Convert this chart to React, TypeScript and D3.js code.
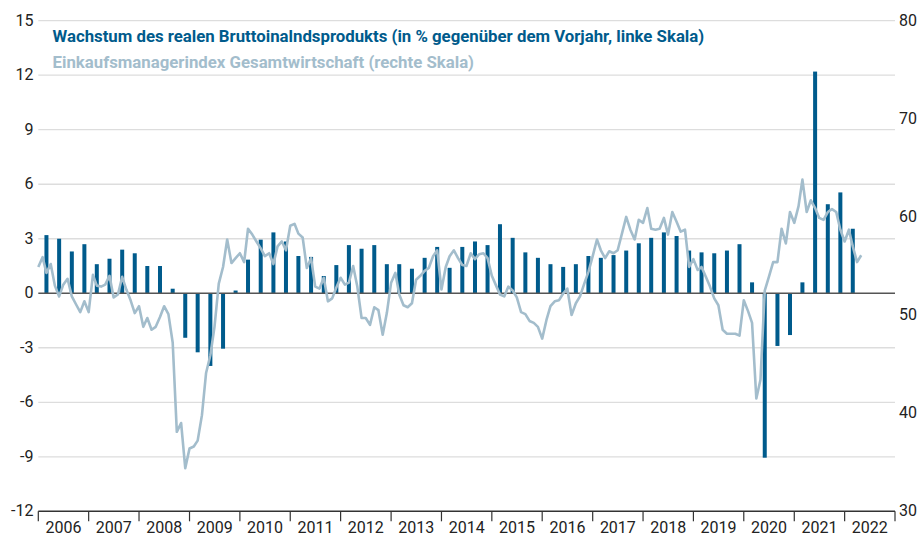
import React from "react";
import * as d3 from "d3";

const W = 921;
const H = 537;

// Quarterly real GDP growth (% yoy), 2006 Q1 .. 2022 Q1
const gdpStartYear = 2006;
const gdpValues = [
  3.2, 3.0, 2.3, 2.7,
  1.6, 1.9, 2.4, 2.2,
  1.5, 1.5, 0.25, -2.45,
  -3.25, -4.0, -3.05, 0.15,
  1.85, 2.95, 3.35, 2.85,
  2.05, 2.0, 0.95, 1.55,
  2.65, 2.45, 2.65, 1.6,
  1.6, 1.35, 1.95, 2.55,
  1.4, 2.55, 2.85, 2.65,
  3.8, 3.05, 2.25, 1.95,
  1.6, 1.45, 1.6, 2.05,
  1.95, 2.1, 2.35, 2.75,
  3.05, 3.35, 3.15, 2.35,
  2.25, 2.2, 2.35, 2.7,
  0.6, -9.05, -2.9, -2.3,
  0.6, 12.2, 4.9, 5.55,
  3.55,
];

// Monthly composite PMI, Jan 2006 .. May 2022
const pmiValues = [
  54.9, 55.9, 54.3, 55.2, 53.0, 51.9, 53.1, 53.7, 51.9, 51.1, 50.3, 51.4,
  50.3, 54.1, 53.0, 52.9, 53.1, 54.0, 51.8, 52.1, 53.9, 52.6, 51.5, 50.2,
  50.9, 48.8, 49.7, 48.5, 48.8, 49.8, 50.9, 50.1, 47.2, 38.1, 39.0, 34.4,
  36.4, 36.6, 37.2, 39.8, 44.1, 45.9, 48.8, 53.2, 54.9, 57.7, 55.3, 55.8,
  56.3, 55.4, 58.8, 58.2, 57.5, 56.8, 56.0, 56.3, 55.2, 57.0, 57.5, 56.6,
  59.1, 59.3, 58.3, 57.9, 54.8, 55.8, 52.9, 52.7, 53.8, 51.4, 51.7, 52.8,
  53.8, 53.1, 53.3, 55.0, 52.9, 49.7, 49.7, 49.0, 50.8, 50.5, 48.0, 50.2,
  53.3, 54.3, 52.1, 51.0, 50.8, 51.2, 53.6, 54.0, 54.5, 54.8, 56.0, 56.6,
  52.6, 54.9, 56.0, 56.6, 55.8, 55.1, 55.0, 56.3, 55.7, 56.2, 56.3, 55.8,
  54.0, 53.0, 52.1, 51.9, 52.9, 52.5, 51.8, 50.3, 50.1, 49.4, 49.2, 48.8,
  47.6, 49.5, 50.9, 51.4, 51.5, 52.2, 52.7, 50.0, 51.2, 51.9, 53.2, 54.4,
  56.0, 57.7, 56.6, 55.8, 56.5, 56.3, 56.6, 58.3, 60.0, 58.7, 57.7, 59.7,
  59.4, 60.9, 58.8, 58.7, 58.8, 59.9, 58.2, 60.5, 59.5, 58.5, 58.7, 54.9,
  55.7, 54.6, 54.9, 53.9, 52.9, 51.7, 51.0, 48.5, 48.1, 48.1, 48.1, 47.9,
  51.5, 50.4, 49.2, 41.5, 43.4, 52.5, 53.9, 55.4, 55.4, 58.8, 57.3, 60.5,
  59.4, 61.1, 63.8, 60.5, 61.7, 60.9, 59.9, 59.7, 60.5, 60.8, 60.5, 58.7,
  57.5, 58.7, 57.0, 55.4, 56.1,
];

const years = d3.range(2006, 2023);
const leftTicks = [-12, -9, -6, -3, 0, 3, 6, 9, 12, 15];
const rightTicks = [30, 40, 50, 60, 70, 80];

const legendGdp =
  "Wachstum des realen Bruttoinalndsprodukts (in % gegenüber dem Vorjahr, linke Skala)";
const legendPmi = "Einkaufsmanagerindex Gesamtwirtschaft (rechte Skala)";

const DARK = "#005b8c";
const LIGHT = "#a3bdcc";
const FONT = "Roboto, 'Open Sans', sans-serif";

export default function App() {
  const x = d3
    .scaleTime()
    .domain([new Date(2006, 0, 1), new Date(2023, 0, 1)])
    .range([38.3, 895]);
  const yL = d3.scaleLinear().domain([-12, 15]).range([511.3, 20.7]);
  const yR = d3.scaleLinear().domain([30, 80]).range([511.3, 20.7]);

  const bars = gdpValues.map((v, i) => {
    const yr = gdpStartYear + Math.floor(i / 4);
    const q = i % 4;
    return { date: new Date(yr, q * 3 + 2, 1), v };
  });
  const pmi = pmiValues.map((v, i) => ({ date: new Date(2006, i, 1), v }));

  const line = d3
    .line<{ date: Date; v: number }>()
    .x((d) => x(d.date))
    .y((d) => yR(d.v));

  const barW = 4;
  const x0 = x.range()[0];
  const x1 = x.range()[1];

  return (
    <svg
      width={W}
      height={H}
      style={{ position: "absolute", left: 0, top: 0, background: "#fff" }}
      fontFamily={FONT}
    >
      {/* grid */}
      {leftTicks.map((t) =>
        t === 0 || t === -12 ? null : (
          <line
            key={"g" + t}
            x1={x0}
            x2={x1}
            y1={yL(t)}
            y2={yL(t)}
            stroke="#dddddd"
            strokeWidth={1.3}
          />
        )
      )}
      {/* left tick labels */}
      {leftTicks.map((t) => (
        <text
          key={"l" + t}
          x={33.5}
          y={yL(t) + 5}
          textAnchor="end"
          fontSize={16}
          fill="#222"
        >
          {t}
        </text>
      ))}
      {/* right tick labels */}
      {rightTicks.map((t) => (
        <text
          key={"r" + t}
          x={899}
          y={yR(t) + 5}
          textAnchor="start"
          fontSize={16}
          fill="#222"
        >
          {t}
        </text>
      ))}
      {/* bars */}
      {bars.map((b, i) => (
        <rect
          key={"b" + i}
          x={x(b.date) - barW / 2}
          width={barW}
          y={Math.min(yL(b.v), yL(0))}
          height={Math.abs(yL(b.v) - yL(0))}
          fill={DARK}
        />
      ))}
      {/* zero line */}
      <line
        x1={x0}
        x2={x1}
        y1={yL(0)}
        y2={yL(0)}
        stroke="#555"
        strokeWidth={1.5}
      />
      {/* PMI line */}
      <path
        d={line(pmi) || ""}
        fill="none"
        stroke={LIGHT}
        strokeWidth={2.6}
        strokeLinejoin="round"
      />
      {/* bottom axis */}
      <line
        x1={x0}
        x2={x1}
        y1={yL(-12)}
        y2={yL(-12)}
        stroke="#333"
        strokeWidth={1.5}
      />
      {[...years, 2023].map((yr) => (
        <line
          key={"t" + yr}
          x1={x(new Date(yr, 0, 1))}
          x2={x(new Date(yr, 0, 1))}
          y1={yL(-12)}
          y2={yL(-12) + 10}
          stroke="#333"
          strokeWidth={1.2}
        />
      ))}
      {years.map((yr) => (
        <text
          key={"y" + yr}
          x={(x(new Date(yr, 0, 1)) + x(new Date(yr + 1, 0, 1))) / 2}
          y={533}
          textAnchor="middle"
          fontSize={16}
          fill="#222"
        >
          {yr}
        </text>
      ))}
      {/* legend */}
      <text x={52.5} y={42} fontSize={16.8} fontWeight={700} fill={DARK}>
        {legendGdp}
      </text>
      <text x={52.5} y={67.5} fontSize={16.8} fontWeight={700} fill={LIGHT}>
        {legendPmi}
      </text>
    </svg>
  );
}
